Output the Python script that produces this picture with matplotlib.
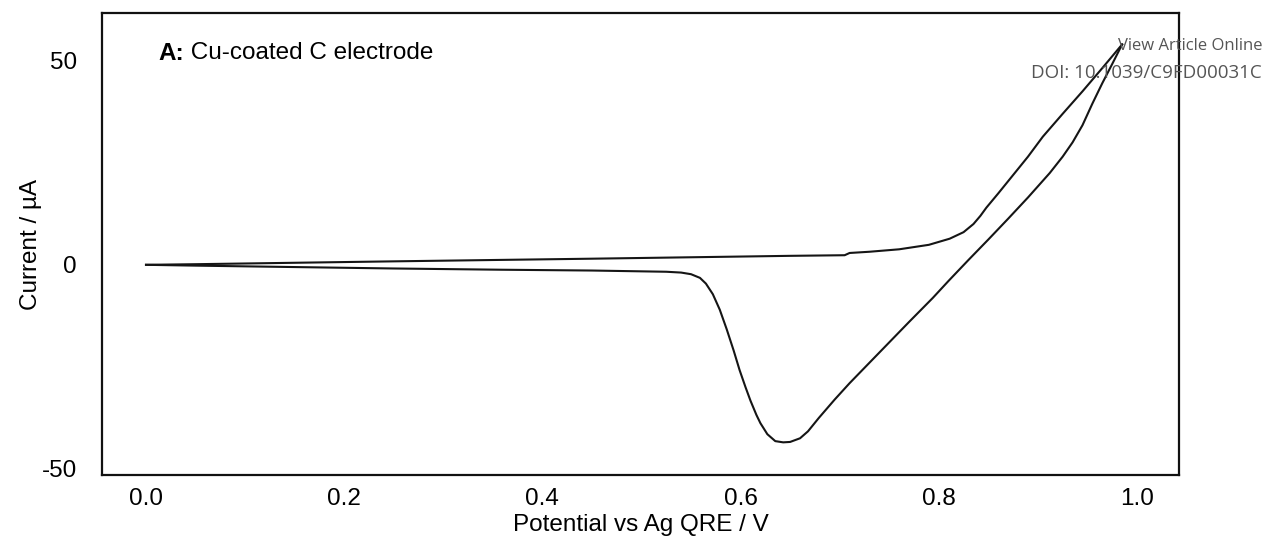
import matplotlib
matplotlib.use("Agg")
import matplotlib.pyplot as plt

# Forward (anodic) scan
fwd_x = [0.0, 0.05, 0.15, 0.25, 0.357, 0.45, 0.55, 0.65, 0.705, 0.71, 0.73, 0.76,
         0.79, 0.811, 0.825, 0.835, 0.842, 0.848, 0.86, 0.875, 0.89, 0.905, 0.925,
         0.945, 0.965, 0.985]
fwd_y = [0.0, 0.15, 0.5, 0.85, 1.2, 1.5, 1.85, 2.2, 2.35, 2.9, 3.2, 3.8,
         4.9, 6.4, 8.0, 10.0, 12.0, 14.0, 17.5, 22.0, 26.5, 31.4, 37.0,
         42.5, 48.2, 54.0]

# Reverse (cathodic) scan
rev_x = [0.985, 0.975, 0.965, 0.955, 0.945, 0.935, 0.925, 0.912, 0.89, 0.87, 0.85,
         0.83, 0.81, 0.794, 0.77, 0.75, 0.73, 0.71, 0.695, 0.679, 0.668, 0.66,
         0.65, 0.643, 0.635, 0.627, 0.62, 0.616, 0.61, 0.605, 0.599, 0.593, 0.586,
         0.579, 0.572, 0.565, 0.559, 0.55, 0.54, 0.525, 0.5, 0.45, 0.357, 0.25,
         0.15, 0.05, 0.0]
rev_y = [54.0, 49.2, 44.5, 39.5, 34.2, 30.0, 26.5, 22.5, 16.5, 11.3, 6.2,
         1.2, -3.9, -8.1, -14.0, -19.0, -24.0, -29.0, -33.0, -37.5, -40.8, -42.5,
         -43.4, -43.5, -43.2, -41.5, -38.8, -36.8, -33.3, -30.0, -25.8, -21.0, -15.8,
         -11.0, -7.2, -4.6, -3.2, -2.3, -1.9, -1.7, -1.6, -1.4, -1.2, -0.9,
         -0.55, -0.2, 0.0]

x_ticks = [0.0, 0.2, 0.4, 0.6, 0.8, 1.0]
x_tick_labels = ["0.0", "0.2", "0.4", "0.6", "0.8", "1.0"]
y_ticks = [-50, 0, 50]
y_tick_labels = ["-50", "0", "50"]

plt.rcParams['font.family'] = ['Liberation Sans', 'DejaVu Sans']
FS = 17.5

fig = plt.figure(figsize=(12.66, 5.37), dpi=100)
ax = fig.add_axes([102/1266, 62/537, (1179-102)/1266, (475-13)/537])

ax.plot(fwd_x, fwd_y, color='#151515', lw=1.5, solid_joinstyle='round')
ax.plot(rev_x, rev_y, color='#151515', lw=1.5, solid_joinstyle='round')

ax.set_xlim(-0.0444, 1.0424)
ax.set_ylim(-51.5, 61.7)
ax.set_xticks(x_ticks)
ax.set_xticklabels(x_tick_labels)
ax.set_yticks(y_ticks)
ax.set_yticklabels(y_tick_labels)
ax.tick_params(length=0, labelsize=FS)
ax.tick_params(axis='y', pad=18)
ax.tick_params(axis='x', pad=9.5)
for s in ax.spines.values():
    s.set_linewidth(1.6)
    s.set_color('#111111')

ax.set_xlabel("Potential vs Ag QRE / V", fontsize=FS, labelpad=2.5)
ax.set_ylabel("Current / µA", fontsize=FS, labelpad=0)

t1 = ax.text(0.052, 0.913, "A:", transform=ax.transAxes, fontsize=FS,
             fontweight='bold', va='center', ha='left')
ax.annotate(" Cu-coated C electrode", xy=(1, 0.5), xycoords=t1,
            fontsize=FS, va='center', ha='left')

fig.text(1262/1266, 1 - 46/537, "View Article Online", ha='right', va='center',
         fontsize=12, color='#555555', family=['Open Sans', 'DejaVu Sans'])
fig.text(1262/1266, 1 - 73/537, "DOI: 10.1039/C9FD00031C", ha='right', va='center',
         fontsize=13.5, color='#555555', family=['Open Sans', 'DejaVu Sans'])

fig.savefig("out.png", dpi=100)
